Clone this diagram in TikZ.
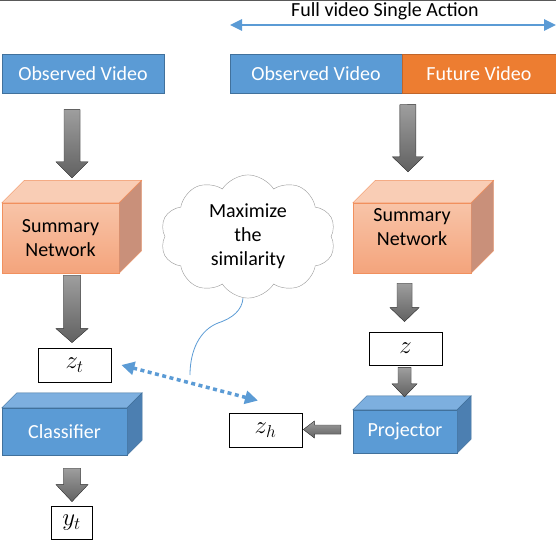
\documentclass[tikz,border=0pt]{standalone}
\usepackage{fontspec}
\setmainfont{Carlito}
\usepackage{tikz}
\usetikzlibrary{arrows.meta,shapes,calc}

\definecolor{vidblue}{HTML}{5B9BD5}
\definecolor{videdge}{HTML}{41719C}
\definecolor{futorange}{HTML}{ED7D31}
\definecolor{futedge}{HTML}{C0652A}
\definecolor{sumtop}{HTML}{F8C4A8}
\definecolor{sumbot}{HTML}{F4A47C}
\definecolor{sumlid}{HTML}{F9CDB5}
\definecolor{sumside}{HTML}{C9907A}
\definecolor{sumedge}{HTML}{F1905E}
\definecolor{boxlid}{HTML}{7DAFDF}
\definecolor{boxside}{HTML}{4C7FB1}

\tikzset{
  every node/.style={font=\fontsize{20}{24}\selectfont, inner sep=0pt},
  video/.style={draw=videdge, fill=vidblue, text=white, minimum height=39pt},
  future/.style={draw=futedge, fill=futorange, text=white, minimum height=39pt},
  netface/.style={draw=sumedge, top color=sumtop, bottom color=sumbot, align=center},
  blockface/.style={draw=videdge, fill=vidblue, text=white},
  feat/.style={draw, fill=white, line width=0.8pt, font=\fontsize{25}{28}\selectfont},
  fat/.style={draw=black!75, top color=black!38, bottom color=black!62},
  simline/.style={vidblue, line width=3.5pt, dash pattern=on 4pt off 3.5pt,
    {Triangle[length=13pt,width=13pt]}-{Triangle[length=13pt,width=13pt]}},
}

% faces of a box behind a front node
\newcommand{\cubefaces}[5]{%
  \filldraw[fill=#3, draw=#5] (#1.north west) -- ++(#2,-#2) -- ($(#1.north east)+(#2,-#2)$) -- (#1.north east) -- cycle;
  \filldraw[fill=#4, draw=#5] (#1.north east) -- ++(#2,-#2) -- ($(#1.south east)+(#2,-#2)$) -- (#1.south east) -- cycle;
}
% block arrow: from, to, shaft half width, head half width, head length
\newcommand{\fatarrow}[5]{%
  \coordinate (fa) at ($(#2)!#5!(#1)$);
  \filldraw[fat] ($(#1)!#3!90:(#2)$) -- ($(fa)!#3!90:(#2)$) -- ($(fa)!#4!90:(#2)$) -- (#2)
    -- ($(fa)!#4!-90:(#2)$) -- ($(fa)!#3!-90:(#2)$) -- ($(#1)!#3!-90:(#2)$) -- cycle;
}

\begin{document}
\begin{tikzpicture}[x=1pt,y=-1pt]
\useasboundingbox (0,0) rectangle (556,540);
\draw[black!65, line width=1pt] (0,0.5) -- (556,0.5);

\node (span) [anchor=base] at (385,16.5) {Full video Single Action};
\coordinate (spanL) at (230,25);
\coordinate (spanR) at (556,25);
\draw[vidblue, line width=2.5pt, {Triangle[length=12pt,width=11pt]}-{Triangle[length=12pt,width=11pt]}] (spanL) -- (spanR);

\node (obsL) [video, minimum width=162pt] at (83,73.5) {Observed Video};
\node (obsR) [video, minimum width=172pt] at (316,73.5) {Observed Video};
\node (fut) [future, minimum width=154pt, node distance=163pt, right of=obsR] {Future Video};

\node (sumL) [netface, minimum width=117pt, minimum height=70pt] at (60.5,238) {Summary\\Network};
\cubefaces{sumL}{22.5}{sumlid}{sumside}{sumedge}
\node (sumR) [netface, minimum width=118pt, minimum height=70pt,
  label={[align=center, yshift=11pt]center:Summary\\Network}] at (412,238) {};
\cubefaces{sumR}{22.5}{sumlid}{sumside}{sumedge}

\node (cloud) [cloud, cloud puffs=10, cloud puff arc=115, draw=black!40, fill=white,
  minimum width=175pt, minimum height=92pt, align=center] at (248,236.5)
  {Maximize\\the\\similarity};

\node (zt) [feat, minimum width=73pt, minimum height=34pt] at (74.5,365) {$z_t$};
\node (cls) [blockface, minimum width=125pt, minimum height=47pt] at (64.5,431.5) {Classifier};
\cubefaces{cls}{15}{boxlid}{boxside}{videdge}
\node (yt) [feat, minimum width=41pt, minimum height=33pt] at (71.5,522.5) {$y_t$};

\node (z) [feat, minimum width=73pt, minimum height=33pt] at (405.5,348.5) {$z$};
\node (proj) [blockface, minimum width=104pt, minimum height=43pt, node distance=83pt, below of=z, xshift=-0.5pt] {Projector};
\cubefaces{proj}{14}{boxlid}{boxside}{videdge}
\node (zh) [feat, minimum width=73pt, minimum height=34pt, node distance=139.5pt, left of=proj, yshift=1.5pt] {$z_h$};

\coordinate (a1s) at ($(obsL.south)+(-11,16.5)$);
\coordinate (a1e) at ($(sumL.north)+(11.5,-25)$);
\coordinate (a2s) at ($(sumL.south)+(11.5,2)$);
\coordinate (a2e) at ($(zt.north)+(-2.5,-5)$);
\coordinate (a3s) at ($(fut.south west)+(6,11.5)$);
\coordinate (a3e) at ($(sumR.north)+(-4,-31)$);
\coordinate (a4s) at ($(sumR.south)+(-7.5,10)$);
\coordinate (a4e) at ($(z.north)+(-1,-10)$);
\coordinate (a5s) at ($(z.south)+(-1,2)$);
\coordinate (a5e) at ($(proj.north)+(-0.5,-13)$);
\coordinate (a6s) at ($(cls.south)+(7.5,13)$);
\coordinate (a6e) at ($(yt.north)+(0.5,-4)$);
\coordinate (a7s) at ($(proj.west)+(-12,-2)$);
\coordinate (a7e) at ($(zh.east)+(1,-0.5)$);
\fatarrow{a1s}{a1e}{8pt}{16pt}{16pt}
\fatarrow{a2s}{a2e}{8.5pt}{16pt}{14pt}
\fatarrow{a3s}{a3e}{8pt}{15.5pt}{15pt}
\fatarrow{a4s}{a4e}{7.5pt}{14.5pt}{14pt}
\fatarrow{a5s}{a5e}{6.5pt}{12.5pt}{13pt}
\fatarrow{a6s}{a6e}{8.5pt}{16pt}{17pt}
\fatarrow{a7s}{a7e}{4.5pt}{8.5pt}{11pt}

\coordinate (simL) at ($(zt.east)+(10,0)$);
\coordinate (simR) at ($(zh.north)+(-7.5,-12)$);
\draw[simline] (simL) -- (simR);

\coordinate (tail) at (190,375);
\draw[vidblue, line width=0.8pt] ($(cloud.south)+(-5,0)$) .. controls (242,310) and (233,318) .. (218,323)
  .. controls (200,330) and (190,350) .. (tail);
\end{tikzpicture}
\end{document}
